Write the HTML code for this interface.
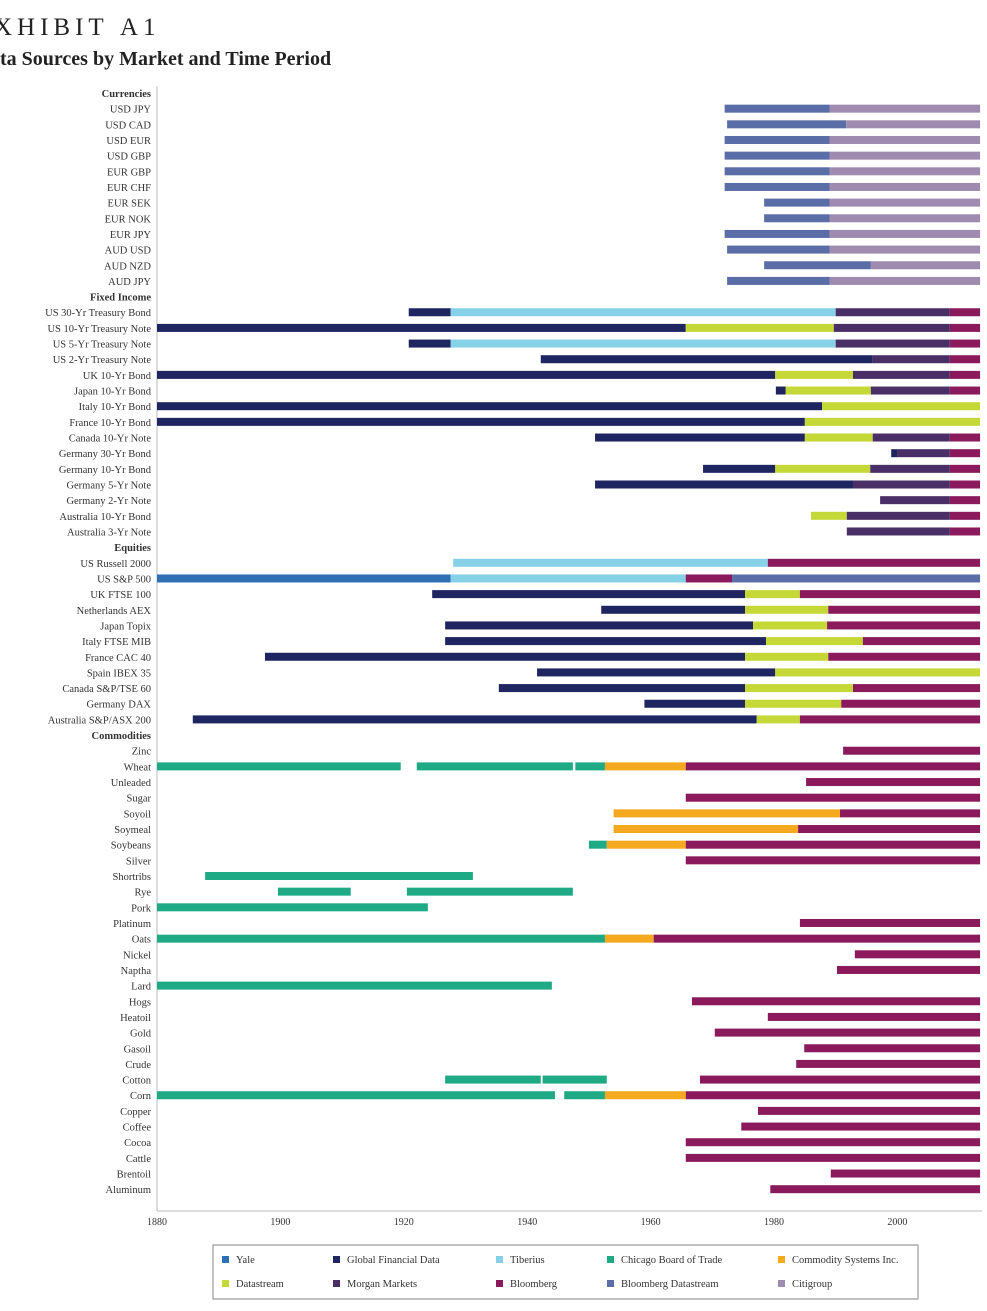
<!DOCTYPE html>
<html><head><meta charset="utf-8">
<style>
body{margin:0;background:#fff;width:987px;height:1311px;overflow:hidden;font-family:"Liberation Serif",serif;}
#t1{position:absolute;left:-6px;top:14px;font-size:25px;letter-spacing:5px;color:#222;}
#t2{position:absolute;left:0;top:48px;font-size:20px;font-weight:bold;color:#222;}
</style></head><body>
<div id="t1">XHIBIT&nbsp;A1</div>
<div id="t2">ta Sources by Market and Time Period</div>
<svg id="c" width="987" height="1311" style="position:absolute;left:0;top:0"></svg>
<script>
const sourceNames=["Yale","Global Financial Data","Tiberius","Chicago Board of Trade","Commodity Systems Inc.","Datastream","Morgan Markets","Bloomberg","Bloomberg Datastream","Citigroup"];
const sourceColors=["#2f6fb3","#1f2560","#86d0e8","#1faa86","#f4a91f","#c4d838","#4a2f66","#8a1a5c","#5a6da6","#9f8bb0"];
const Y=0,G=1,T=2,C=3,S=4,D=5,M=6,B=7,BD=8,CI=9,E=2013.4;
// each row: [label, isHeader, segments [source,start,end]]
const rows=[
["Currencies",1,[]],
["USD JPY",0,[[BD,1972,1989],[CI,1989,E]]],
["USD CAD",0,[[BD,1972.4,1991.7],[CI,1991.7,E]]],
["USD EUR",0,[[BD,1972,1989],[CI,1989,E]]],
["USD GBP",0,[[BD,1972,1989],[CI,1989,E]]],
["EUR GBP",0,[[BD,1972,1989],[CI,1989,E]]],
["EUR CHF",0,[[BD,1972,1989],[CI,1989,E]]],
["EUR SEK",0,[[BD,1978.4,1989],[CI,1989,E]]],
["EUR NOK",0,[[BD,1978.4,1989],[CI,1989,E]]],
["EUR JPY",0,[[BD,1972,1989],[CI,1989,E]]],
["AUD USD",0,[[BD,1972.4,1989],[CI,1989,E]]],
["AUD NZD",0,[[BD,1978.4,1995.7],[CI,1995.7,E]]],
["AUD JPY",0,[[BD,1972.4,1989],[CI,1989,E]]],
["Fixed Income",1,[]],
["US 30-Yr Treasury Bond",0,[[G,1920.8,1927.6],[T,1927.6,1990],[M,1990,2008.5],[B,2008.5,E]]],
["US 10-Yr Treasury Note",0,[[G,1880,1965.7],[D,1965.7,1989.7],[M,1989.7,2008.5],[B,2008.5,E]]],
["US 5-Yr Treasury Note",0,[[G,1920.8,1927.6],[T,1927.6,1990],[M,1990,2008.5],[B,2008.5,E]]],
["US 2-Yr Treasury Note",0,[[G,1942.2,1996],[M,1996,2008.5],[B,2008.5,E]]],
["UK 10-Yr Bond",0,[[G,1880,1980.2],[D,1980.2,1992.8],[M,1992.8,2008.5],[B,2008.5,E]]],
["Japan 10-Yr Bond",0,[[G,1980.3,1981.9],[D,1981.9,1995.7],[M,1995.7,2008.5],[B,2008.5,E]]],
["Italy 10-Yr Bond",0,[[G,1880,1987.8],[D,1987.8,E]]],
["France 10-Yr Bond",0,[[G,1880,1985],[D,1985,E]]],
["Canada 10-Yr Note",0,[[G,1951,1985],[D,1985,1996],[M,1996,2008.5],[B,2008.5,E]]],
["Germany 30-Yr Bond",0,[[G,1999,2000],[M,2000,2008.5],[B,2008.5,E]]],
["Germany 10-Yr Bond",0,[[G,1968.5,1980.2],[D,1980.2,1995.6],[M,1995.6,2008.5],[B,2008.5,E]]],
["Germany 5-Yr Note",0,[[G,1951,1992.8],[M,1992.8,2008.5],[B,2008.5,E]]],
["Germany 2-Yr Note",0,[[M,1997.2,2008.5],[B,2008.5,E]]],
["Australia 10-Yr Bond",0,[[D,1986,1991.8],[M,1991.8,2008.5],[B,2008.5,E]]],
["Australia 3-Yr Note",0,[[M,1991.8,2008.5],[B,2008.5,E]]],
["Equities",1,[]],
["US Russell 2000",0,[[T,1928,1979],[B,1979,E]]],
["US S&P 500",0,[[Y,1880,1927.6],[T,1927.6,1965.7],[B,1965.7,1973.2],[BD,1973.2,E]]],
["UK FTSE 100",0,[[G,1924.6,1975.3],[D,1975.3,1984.2],[B,1984.2,E]]],
["Netherlands AEX",0,[[G,1952,1975.3],[D,1975.3,1988.8],[B,1988.8,E]]],
["Japan Topix",0,[[G,1926.7,1976.6],[D,1976.6,1988.6],[B,1988.6,E]]],
["Italy FTSE MIB",0,[[G,1926.7,1978.7],[D,1978.7,1994.4],[B,1994.4,E]]],
["France CAC 40",0,[[G,1897.5,1975.3],[D,1975.3,1988.8],[B,1988.8,E]]],
["Spain IBEX 35",0,[[G,1941.6,1980.2],[D,1980.2,E]]],
["Canada S&P/TSE 60",0,[[G,1935.4,1975.3],[D,1975.3,1992.8],[B,1992.8,E]]],
["Germany DAX",0,[[G,1959,1975.3],[D,1975.3,1990.9],[B,1990.9,E]]],
["Australia S&P/ASX 200",0,[[G,1885.8,1977.2],[D,1977.2,1984.2],[B,1984.2,E]]],
["Commodities",1,[]],
["Zinc",0,[[B,1991.2,E]]],
["Wheat",0,[[C,1880,1919.5],[C,1922.1,1947.4],[C,1947.8,1952.6],[S,1952.6,1965.7],[B,1965.7,E]]],
["Unleaded",0,[[B,1985.2,E]]],
["Sugar",0,[[B,1965.7,E]]],
["Soyoil",0,[[S,1954,1990.7],[B,1990.7,E]]],
["Soymeal",0,[[S,1954,1983.9],[B,1983.9,E]]],
["Soybeans",0,[[C,1950,1952.9],[S,1952.9,1965.7],[B,1965.7,E]]],
["Silver",0,[[B,1965.7,E]]],
["Shortribs",0,[[C,1887.8,1931.2]]],
["Rye",0,[[C,1899.6,1911.4],[C,1920.5,1947.4]]],
["Pork",0,[[C,1880,1923.9]]],
["Platinum",0,[[B,1984.2,E]]],
["Oats",0,[[C,1880,1952.6],[S,1952.6,1960.5],[B,1960.5,E]]],
["Nickel",0,[[B,1993.1,E]]],
["Naptha",0,[[B,1990.2,E]]],
["Lard",0,[[C,1880,1944]]],
["Hogs",0,[[B,1966.7,E]]],
["Heatoil",0,[[B,1979,E]]],
["Gold",0,[[B,1970.4,E]]],
["Gasoil",0,[[B,1984.9,E]]],
["Crude",0,[[B,1983.6,E]]],
["Cotton",0,[[C,1926.7,1942.2],[C,1942.5,1952.9],[B,1968,E]]],
["Corn",0,[[C,1880,1944.5],[C,1946,1952.6],[S,1952.6,1965.7],[B,1965.7,E]]],
["Copper",0,[[B,1977.4,E]]],
["Coffee",0,[[B,1974.7,E]]],
["Cocoa",0,[[B,1965.7,E]]],
["Cattle",0,[[B,1965.7,E]]],
["Brentoil",0,[[B,1989.2,E]]],
["Aluminum",0,[[B,1979.4,E]]]
];
const xTicks=[1880,1900,1920,1940,1960,1980,2000];
const NS="http://www.w3.org/2000/svg";
const svg=document.getElementById('c');
const x=v=>157+(v-1880)*6.17;
const yRow=i=>93+i*15.66;
function mk(tag,at,parent){const e=document.createElementNS(NS,tag);for(const k in at)e.setAttribute(k,at[k]);(parent||svg).appendChild(e);return e;}
// axes
let ax=mk('line',{x1:157,y1:86,x2:157,y2:1211,stroke:'#bbb','stroke-width':1});


let bx=mk('line',{x1:157,y1:1211,x2:982,y2:1211,stroke:'#bbb','stroke-width':1});


xTicks.forEach(t=>{
 const tx=mk('text',{x:x(t),y:1225,'font-size':10,'text-anchor':'middle',fill:'#333'});
 tx.textContent=t;
 
 
});
rows.forEach((r,i)=>{
 const yc=yRow(i);
 const lb=mk('text',{x:151,y:yc+4,'font-size':r[1]?10.5:10.5,'font-weight':r[1]?'bold':'normal','text-anchor':'end',fill:'#333','textLength':'', 'font-family':'"Liberation Serif",serif'});
 lb.removeAttribute('textLength');
 lb.textContent=r[0];
 
 
 r[2].forEach(s=>{
  const rc=mk('rect',{x:x(s[1]),y:yc-4,width:Math.max(1,x(s[2])-x(s[1])),height:8,fill:sourceColors[s[0]]});
  
  
 });
});
// legend
const lg=mk('g',{});


mk('rect',{x:213,y:1245,width:705,height:54,fill:'#fff',stroke:'#999','stroke-width':1.2},lg);
const lx=[222,333,496,607,778];
sourceNames.forEach((n,i)=>{
 const cx=lx[i%5],cy=i<5?1260:1284;
 const g=mk('g',{},lg);
 
 
 mk('rect',{x:cx,y:cy-4,width:7,height:7,fill:sourceColors[i]},g);
 const t=mk('text',{x:cx+14,y:cy+3,'font-size':10.5,fill:'#333'},g);
 t.textContent=n;
});
</script>
</body></html>
